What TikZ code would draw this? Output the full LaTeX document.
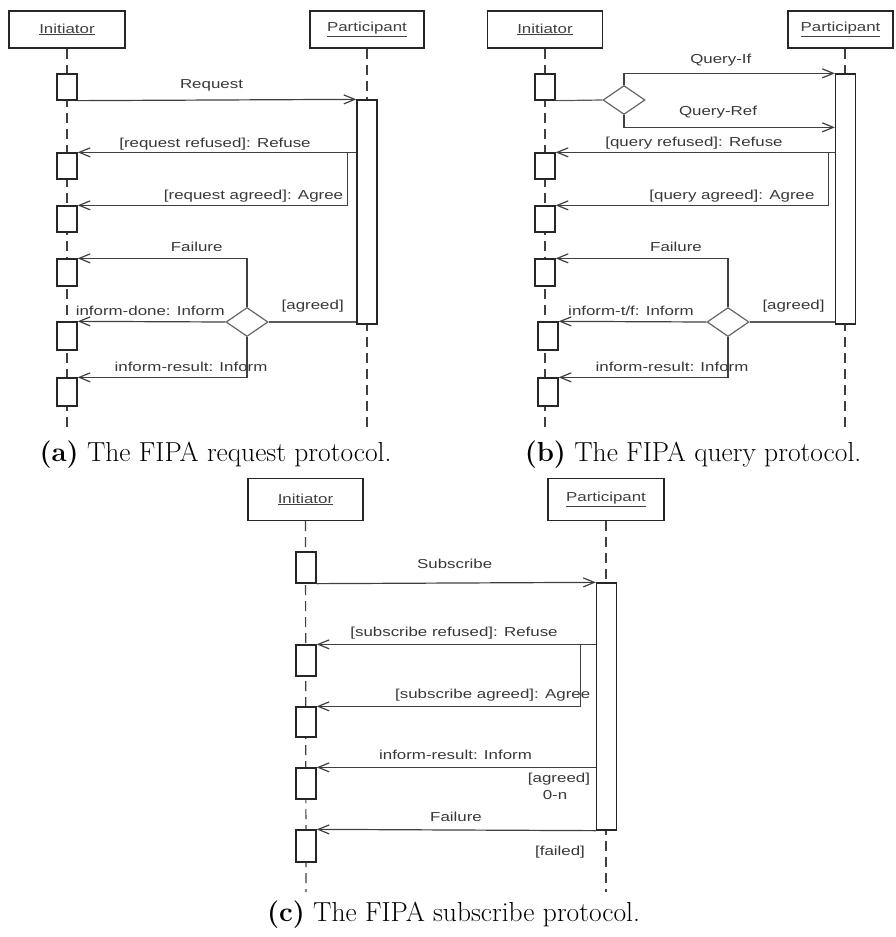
\documentclass[tikz,border=0pt]{standalone}
\usepackage{fontspec}
\usetikzlibrary{arrows.meta,shapes.geometric}
\newfontfamily\lblfam[FakeStretch=1.3]{Liberation Sans}
\newcommand{\lblfont}{\fontsize{13}{15}\selectfont\lblfam}
\newcommand{\capfont}{\fontsize{27.5}{31}\selectfont}
\tikzset{
  lbl/.style={font=\lblfont, text=black!78, inner sep=0pt, anchor=base},
  head/.style={draw=black!85, line width=1.2pt, fill=white, minimum width=#1,
    minimum height=37pt, inner sep=0pt, font=\lblfont, text=black!75},
  lifeline/.style={draw=black!75, line width=1.2pt, dash pattern=on 10pt off 6pt},
  bar/.style={draw=black!85, line width=1.3pt, fill=white, minimum width=20pt,
    inner sep=0pt, minimum height=#1},
  msg/.style={draw=black!75, line width=1.2pt, -{Straight Barb[length=11pt,width=9pt]}},
  link/.style={draw=black!65, line width=1.2pt},
  choice/.style={diamond, draw=black!60, line width=1.2pt, fill=white,
    minimum width=42pt, minimum height=29pt, inner sep=0pt},
  caption/.style={font=\capfont, inner sep=0pt, anchor=base}
}
\begin{document}
\begin{tikzpicture}[x=1pt,y=-1pt]
\useasboundingbox (0,0) rectangle (895,937);

% ---------------- (a) request protocol ----------------
\node[head=116pt] (Ia) at (67,29.5) {\underline{Initiator}};
\node[head=114pt] (Pa) at (367,29.5) {\underline{Participant}};
\coordinate (Ia end) at (67,427);
\coordinate (Pa end) at (367,427);
\draw[lifeline] (Ia.south) -- (Ia end);
\draw[lifeline] (Pa.south) -- (Pa end);
\node[bar=26pt] (a1) at (67,87) {};
\node[bar=224pt] (pa) at (367,212) {};
\node[bar=26pt] (a2) at (67,166) {};
\node[bar=26pt] (a3) at (67,219) {};
\node[bar=27pt] (a4) at (67,272.5) {};
\node[bar=28pt] (a5) at (67,336) {};
\node[bar=28pt] (a6) at (67,392) {};
\node[choice] (da) at (247,322) {};

\draw[msg] (a1.south east) -- (pa.north west);
\draw[msg] (pa.west |- a2.north) -- (a2.north east);
\draw[msg] ([xshift=-9pt]pa.west |- a2.north) |- (a3.north east);
\draw[msg] (da.north) |- (a4.north east);
\draw[msg] (da.west) -- (a5.north east);
\draw[link] (da.east) -- (da.east -| pa.west);
\draw[msg] (da.south) |- (a6.north east);

\node[lbl] (la1) at (211.5,88) {Request};
\node[lbl] (la2) at (215,147) {[request refused]: Refuse};
\node[lbl, anchor=base east] (la3) at (343.3,199.5) {[request agreed]: Agree};
\node[lbl] (la4) at (196.7,251.7) {Failure};
\node[lbl] (la5) at (150.3,315) {inform-done: Inform};
\node[lbl] (la6) at (312.7,309.3) {[agreed]};
\node[lbl] (la7) at (191,371.7) {inform-result: Inform};

\node[caption] (capa) at (215.5,461.5) {\textbf{(a)} The FIPA request protocol.};

% ---------------- (b) query protocol ----------------
\node[head=115pt] (Ib) at (545,29.5) {\underline{Initiator}};
\node[head=105pt] (Pb) at (840.5,29.5) {\underline{Participant}};
\coordinate (Ib end) at (545,427);
\coordinate (Pb end) at (845,427);
\draw[lifeline] (Ib.south) -- (Ib end);
\draw[lifeline] (Pb.south -| Pb end) -- (Pb end);
\node[bar=26pt] (b1) at (545,87) {};
\node[bar=250pt] (pb) at (845.5,199) {};
\node[choice] (db) at (624,100) {};
\node[bar=26pt] (b2) at (545,166) {};
\node[bar=26pt] (b3) at (545,219) {};
\node[bar=27pt] (b4) at (545,272.5) {};
\node[bar=28pt] (b5) at (548,336) {};
\node[bar=28pt] (b6) at (548,392) {};
\node[choice] (eb) at (728,322) {};

\draw[link] (b1.south east) -- (db.west);
\draw[msg] (db.north) |- (pb.north west);
\draw[msg] (db.south) |- ([yshift=-54pt]pb.north west);
\draw[msg] (pb.west |- b2.north) -- (b2.north east);
\draw[msg] ([xshift=-6pt]pb.west |- b2.north) |- (b3.north east);
\draw[msg] (eb.north) |- (b4.north east);
\draw[msg] (eb.west) -- (b5.north east);
\draw[link] (eb.east) -- (eb.east -| pb.west);
\draw[msg] (eb.south) |- (b6.north east);

\node[lbl] (lb1) at (720.8,63) {Query-If};
\node[lbl] (lb2) at (718,115) {Query-Ref};
\node[lbl] (lb3) at (694,146.7) {[query refused]: Refuse};
\node[lbl] (lb4) at (732,199) {[query agreed]: Agree};
\node[lbl] (lb5) at (676,251.7) {Failure};
\node[lbl] (lb6) at (631,315) {inform-t/f: Inform};
\node[lbl] (lb7) at (793.5,309) {[agreed]};
\node[lbl] (lb8) at (672,371.7) {inform-result: Inform};

\node[caption] (capb) at (693,461.5) {\textbf{(b)} The FIPA query protocol.};

% ---------------- (c) subscribe protocol ----------------
\node[head=115pt, minimum height=42pt] (Ic) at (305.5,499.5) {\underline{Initiator}};
\node[head=116pt, minimum height=42pt] (Pc) at (606,499.5) {\underline{Participant}};
\coordinate (Ic end) at (306,892);
\coordinate (Pc end) at (606,892);
\draw[lifeline] (Ic.south) -- (Ic end);
\draw[lifeline] (Pc.south) -- (Pc end);
\node[bar=31pt] (c1) at (306,567.5) {};
\node[bar=247pt] (pc) at (606.5,706.5) {};
\node[bar=31pt] (c2) at (306,660.5) {};
\node[bar=30pt] (c3) at (306,722) {};
\node[bar=31pt] (c4) at (306,783.5) {};
\node[bar=32pt] (c5) at (306,846) {};

\draw[msg] (c1.south east) -- (pc.north west);
\draw[msg] (pc.west |- c2.north) -- (c2.north east);
\draw[msg] ([xshift=-15pt]pc.west |- c2.north) |- (c3.north east);
\draw[msg] (pc.west |- c4.north) -- (c4.north east);
\draw[msg] (pc.south west) -- (c5.north east);

\node[lbl] (lc1) at (454.7,568.3) {Subscribe};
\node[lbl] (lc2) at (454,636.7) {[subscribe refused]: Refuse};
\node[lbl] (lc3) at (492.7,698.3) {[subscribe agreed]: Agree};
\node[lbl] (lc4) at (455.5,759) {inform-result: Inform};
\node[lbl] (lc5) at (559,782.7) {[agreed]};
\node[lbl] (lc6) at (555,799.3) {0-n};
\node[lbl] (lc7) at (456,821.7) {Failure};
\node[lbl] (lc8) at (560,855) {[failed]};

\node[caption] (capc) at (453.5,921.5) {\textbf{(c)} The FIPA subscribe protocol.};
\end{tikzpicture}
\end{document}
